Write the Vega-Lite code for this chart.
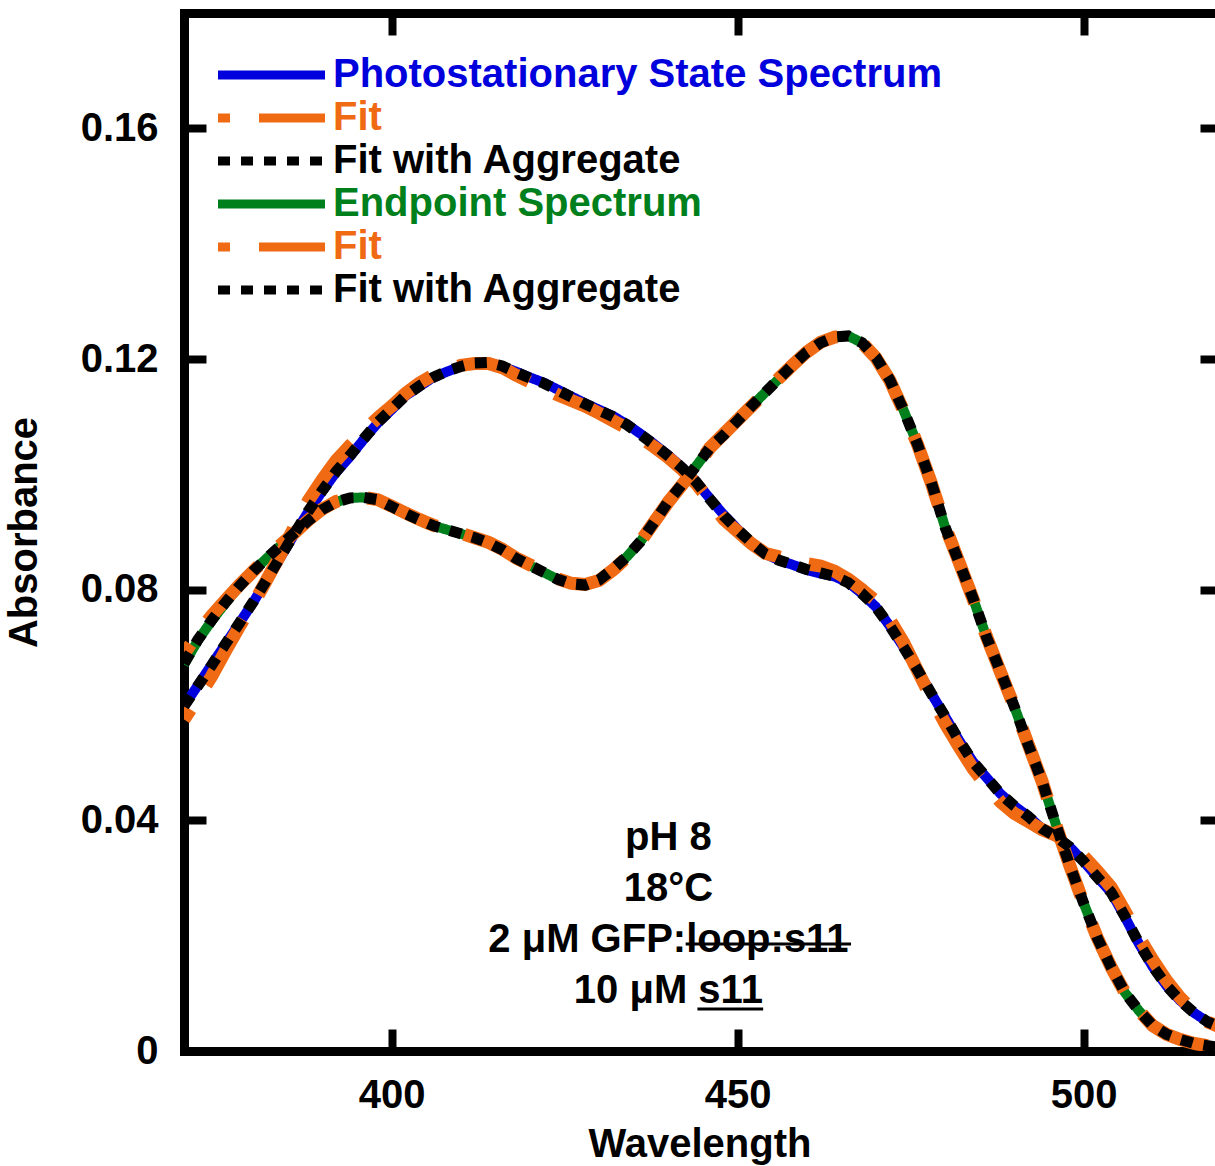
{
  "$schema": "https://vega.github.io/schema/vega-lite/v6.json",
  "width": 1031,
  "height": 1038,
  "autosize": {"type": "none"},
  "padding": {"left": 184, "top": 13, "right": 0, "bottom": 115},
  "background": "white",
  "config": {
    "view": {"stroke": null},
    "axis": {
      "grid": false,
      "domainColor": "black",
      "domainWidth": 9,
      "domainCap": "square",
      "tickColor": "black",
      "tickWidth": 8,
      "tickSize": -22,
      "labelFont": "Liberation Sans",
      "labelFontWeight": "bold",
      "labelFontSize": 40,
      "labelColor": "black",
      "titleFont": "Liberation Sans",
      "titleFontWeight": "bold",
      "titleFontSize": 40,
      "titleColor": "black"
    }
  },
  "layer": [
    {
      "data": {
        "values": [
          {"wl":370,"pss":0.0598,"pssFit":0.0575,"pssAgg":0.0598,"end":0.0670,"endFit":0.0688,"endAgg":0.0672},
          {"wl":372,"pss":0.0634,"pssFit":0.0612,"pssAgg":0.0633,"end":0.0712,"endFit":0.0724,"endAgg":0.0713},
          {"wl":374,"pss":0.0670,"pssFit":0.0650,"pssAgg":0.0669,"end":0.0746,"endFit":0.0755,"endAgg":0.0747},
          {"wl":376,"pss":0.0706,"pssFit":0.0694,"pssAgg":0.0706,"end":0.0777,"endFit":0.0782,"endAgg":0.0778},
          {"wl":378,"pss":0.0742,"pssFit":0.0736,"pssAgg":0.0742,"end":0.0806,"endFit":0.0808,"endAgg":0.0806},
          {"wl":380,"pss":0.0778,"pssFit":0.0775,"pssAgg":0.0779,"end":0.0832,"endFit":0.0832,"endAgg":0.0832},
          {"wl":382,"pss":0.0818,"pssFit":0.0818,"pssAgg":0.0818,"end":0.0855,"endFit":0.0856,"endAgg":0.0855},
          {"wl":384,"pss":0.0857,"pssFit":0.0862,"pssAgg":0.0858,"end":0.0877,"endFit":0.0878,"endAgg":0.0877},
          {"wl":386,"pss":0.0897,"pssFit":0.0910,"pssAgg":0.0898,"end":0.0899,"endFit":0.0899,"endAgg":0.0899},
          {"wl":388,"pss":0.0936,"pssFit":0.0955,"pssAgg":0.0937,"end":0.0920,"endFit":0.0921,"endAgg":0.0920},
          {"wl":390,"pss":0.0971,"pssFit":0.0991,"pssAgg":0.0972,"end":0.0939,"endFit":0.0940,"endAgg":0.0939},
          {"wl":392,"pss":0.1004,"pssFit":0.1024,"pssAgg":0.1005,"end":0.0952,"endFit":0.0953,"endAgg":0.0952},
          {"wl":394,"pss":0.1031,"pssFit":0.1050,"pssAgg":0.1033,"end":0.0959,"endFit":0.0959,"endAgg":0.0959},
          {"wl":396,"pss":0.1061,"pssFit":0.1075,"pssAgg":0.1062,"end":0.0960,"endFit":0.0960,"endAgg":0.0960},
          {"wl":398,"pss":0.1089,"pssFit":0.1098,"pssAgg":0.1090,"end":0.0956,"endFit":0.0956,"endAgg":0.0956},
          {"wl":400,"pss":0.1112,"pssFit":0.1118,"pssAgg":0.1113,"end":0.0944,"endFit":0.0945,"endAgg":0.0944},
          {"wl":402,"pss":0.1136,"pssFit":0.1140,"pssAgg":0.1136,"end":0.0932,"endFit":0.0933,"endAgg":0.0932},
          {"wl":404,"pss":0.1152,"pssFit":0.1158,"pssAgg":0.1153,"end":0.0921,"endFit":0.0922,"endAgg":0.0921},
          {"wl":406,"pss":0.1168,"pssFit":0.1172,"pssAgg":0.1168,"end":0.0911,"endFit":0.0912,"endAgg":0.0911},
          {"wl":408,"pss":0.1178,"pssFit":0.1182,"pssAgg":0.1179,"end":0.0904,"endFit":0.0904,"endAgg":0.0904},
          {"wl":410,"pss":0.1187,"pssFit":0.1189,"pssAgg":0.1187,"end":0.0897,"endFit":0.0898,"endAgg":0.0897},
          {"wl":412,"pss":0.1193,"pssFit":0.1192,"pssAgg":0.1193,"end":0.0890,"endFit":0.0890,"endAgg":0.0890},
          {"wl":414,"pss":0.1194,"pssFit":0.1192,"pssAgg":0.1194,"end":0.0881,"endFit":0.0882,"endAgg":0.0881},
          {"wl":416,"pss":0.1187,"pssFit":0.1185,"pssAgg":0.1188,"end":0.0869,"endFit":0.0870,"endAgg":0.0869},
          {"wl":418,"pss":0.1178,"pssFit":0.1172,"pssAgg":0.1177,"end":0.0854,"endFit":0.0855,"endAgg":0.0854},
          {"wl":420,"pss":0.1168,"pssFit":0.1160,"pssAgg":0.1167,"end":0.0842,"endFit":0.0843,"endAgg":0.0842},
          {"wl":422,"pss":0.1159,"pssFit":0.1150,"pssAgg":0.1158,"end":0.0830,"endFit":0.0831,"endAgg":0.0830},
          {"wl":424,"pss":0.1147,"pssFit":0.1138,"pssAgg":0.1146,"end":0.0818,"endFit":0.0819,"endAgg":0.0818},
          {"wl":426,"pss":0.1135,"pssFit":0.1128,"pssAgg":0.1134,"end":0.0810,"endFit":0.0811,"endAgg":0.0810},
          {"wl":428,"pss":0.1123,"pssFit":0.1118,"pssAgg":0.1122,"end":0.0808,"endFit":0.0809,"endAgg":0.0808},
          {"wl":430,"pss":0.1112,"pssFit":0.1106,"pssAgg":0.1111,"end":0.0817,"endFit":0.0816,"endAgg":0.0817},
          {"wl":432,"pss":0.1101,"pssFit":0.1093,"pssAgg":0.1100,"end":0.0836,"endFit":0.0834,"endAgg":0.0836},
          {"wl":434,"pss":0.1087,"pssFit":0.1080,"pssAgg":0.1086,"end":0.0857,"endFit":0.0856,"endAgg":0.0857},
          {"wl":436,"pss":0.1070,"pssFit":0.1064,"pssAgg":0.1069,"end":0.0884,"endFit":0.0884,"endAgg":0.0884},
          {"wl":438,"pss":0.1052,"pssFit":0.1047,"pssAgg":0.1051,"end":0.0918,"endFit":0.0918,"endAgg":0.0918},
          {"wl":440,"pss":0.1033,"pssFit":0.1029,"pssAgg":0.1032,"end":0.0953,"endFit":0.0952,"endAgg":0.0953},
          {"wl":442,"pss":0.1012,"pssFit":0.1008,"pssAgg":0.1011,"end":0.0983,"endFit":0.0982,"endAgg":0.0983},
          {"wl":444,"pss":0.0988,"pssFit":0.0984,"pssAgg":0.0987,"end":0.1014,"endFit":0.1013,"endAgg":0.1014},
          {"wl":446,"pss":0.0958,"pssFit":0.0954,"pssAgg":0.0957,"end":0.1046,"endFit":0.1046,"endAgg":0.1046},
          {"wl":448,"pss":0.0930,"pssFit":0.0922,"pssAgg":0.0928,"end":0.1068,"endFit":0.1070,"endAgg":0.1068},
          {"wl":450,"pss":0.0905,"pssFit":0.0901,"pssAgg":0.0904,"end":0.1093,"endFit":0.1094,"endAgg":0.1093},
          {"wl":452,"pss":0.0882,"pssFit":0.0880,"pssAgg":0.0882,"end":0.1118,"endFit":0.1118,"endAgg":0.1118},
          {"wl":454,"pss":0.0862,"pssFit":0.0863,"pssAgg":0.0862,"end":0.1142,"endFit":0.1142,"endAgg":0.1142},
          {"wl":456,"pss":0.0851,"pssFit":0.0857,"pssAgg":0.0851,"end":0.1166,"endFit":0.1167,"endAgg":0.1166},
          {"wl":458,"pss":0.0843,"pssFit":0.0852,"pssAgg":0.0843,"end":0.1190,"endFit":0.1190,"endAgg":0.1190},
          {"wl":460,"pss":0.0834,"pssFit":0.0845,"pssAgg":0.0835,"end":0.1212,"endFit":0.1212,"endAgg":0.1212},
          {"wl":462,"pss":0.0828,"pssFit":0.0841,"pssAgg":0.0829,"end":0.1228,"endFit":0.1229,"endAgg":0.1228},
          {"wl":464,"pss":0.0823,"pssFit":0.0832,"pssAgg":0.0823,"end":0.1238,"endFit":0.1238,"endAgg":0.1238},
          {"wl":466,"pss":0.0812,"pssFit":0.0818,"pssAgg":0.0812,"end":0.1240,"endFit":0.1240,"endAgg":0.1240},
          {"wl":468,"pss":0.0793,"pssFit":0.0800,"pssAgg":0.0793,"end":0.1228,"endFit":0.1228,"endAgg":0.1228},
          {"wl":470,"pss":0.0770,"pssFit":0.0780,"pssAgg":0.0770,"end":0.1203,"endFit":0.1202,"endAgg":0.1203},
          {"wl":472,"pss":0.0737,"pssFit":0.0748,"pssAgg":0.0737,"end":0.1164,"endFit":0.1163,"endAgg":0.1164},
          {"wl":474,"pss":0.0700,"pssFit":0.0708,"pssAgg":0.0700,"end":0.1111,"endFit":0.1110,"endAgg":0.1111},
          {"wl":476,"pss":0.0661,"pssFit":0.0660,"pssAgg":0.0661,"end":0.1052,"endFit":0.1052,"endAgg":0.1052},
          {"wl":478,"pss":0.0620,"pssFit":0.0612,"pssAgg":0.0620,"end":0.0986,"endFit":0.0985,"endAgg":0.0986},
          {"wl":480,"pss":0.0580,"pssFit":0.0568,"pssAgg":0.0580,"end":0.0908,"endFit":0.0910,"endAgg":0.0908},
          {"wl":482,"pss":0.0539,"pssFit":0.0528,"pssAgg":0.0539,"end":0.0848,"endFit":0.0848,"endAgg":0.0848},
          {"wl":484,"pss":0.0502,"pssFit":0.0490,"pssAgg":0.0502,"end":0.0786,"endFit":0.0785,"endAgg":0.0786},
          {"wl":486,"pss":0.0474,"pssFit":0.0460,"pssAgg":0.0474,"end":0.0717,"endFit":0.0718,"endAgg":0.0717},
          {"wl":488,"pss":0.0446,"pssFit":0.0432,"pssAgg":0.0446,"end":0.0658,"endFit":0.0657,"endAgg":0.0658},
          {"wl":490,"pss":0.0425,"pssFit":0.0412,"pssAgg":0.0425,"end":0.0597,"endFit":0.0597,"endAgg":0.0597},
          {"wl":492,"pss":0.0407,"pssFit":0.0398,"pssAgg":0.0407,"end":0.0531,"endFit":0.0532,"endAgg":0.0531},
          {"wl":494,"pss":0.0386,"pssFit":0.0384,"pssAgg":0.0386,"end":0.0468,"endFit":0.0468,"endAgg":0.0468},
          {"wl":496,"pss":0.0372,"pssFit":0.0374,"pssAgg":0.0372,"end":0.0393,"endFit":0.0392,"endAgg":0.0393},
          {"wl":498,"pss":0.0354,"pssFit":0.0360,"pssAgg":0.0354,"end":0.0322,"endFit":0.0322,"endAgg":0.0322},
          {"wl":500,"pss":0.0329,"pssFit":0.0338,"pssAgg":0.0329,"end":0.0257,"endFit":0.0256,"endAgg":0.0257},
          {"wl":502,"pss":0.0301,"pssFit":0.0312,"pssAgg":0.0301,"end":0.0196,"endFit":0.0196,"endAgg":0.0196},
          {"wl":504,"pss":0.0275,"pssFit":0.0284,"pssAgg":0.0275,"end":0.0145,"endFit":0.0145,"endAgg":0.0145},
          {"wl":506,"pss":0.0232,"pssFit":0.0242,"pssAgg":0.0233,"end":0.0101,"endFit":0.0101,"endAgg":0.0101},
          {"wl":508,"pss":0.0186,"pssFit":0.0198,"pssAgg":0.0187,"end":0.0070,"endFit":0.0070,"endAgg":0.0070},
          {"wl":510,"pss":0.0146,"pssFit":0.0158,"pssAgg":0.0147,"end":0.0044,"endFit":0.0044,"endAgg":0.0044},
          {"wl":512,"pss":0.0113,"pssFit":0.0122,"pssAgg":0.0113,"end":0.0029,"endFit":0.0029,"endAgg":0.0029},
          {"wl":514,"pss":0.0087,"pssFit":0.0092,"pssAgg":0.0087,"end":0.0020,"endFit":0.0020,"endAgg":0.0020},
          {"wl":516,"pss":0.0066,"pssFit":0.0068,"pssAgg":0.0066,"end":0.0013,"endFit":0.0013,"endAgg":0.0013},
          {"wl":518,"pss":0.0050,"pssFit":0.0050,"pssAgg":0.0050,"end":0.0009,"endFit":0.0009,"endAgg":0.0009},
          {"wl":520,"pss":0.0040,"pssFit":0.0040,"pssAgg":0.0040,"end":0.0006,"endFit":0.0006,"endAgg":0.0006}
        ]
      },
      "transform": [
        {"fold": ["pss", "pssFit", "pssAgg", "end", "endFit", "endAgg"], "as": ["series", "value"]}
      ],
      "encoding": {
        "x": {
          "field": "wl", "type": "quantitative",
          "scale": {"domain": [370, 519], "nice": false, "zero": false},
          "axis": {"orient": "bottom", "title": "Wavelength", "values": [400, 450, 500], "labelPadding": 46, "titlePadding": 9}
        },
        "y": {
          "field": "value", "type": "quantitative",
          "scale": {"domain": [0, 0.18], "nice": false},
          "axis": {"orient": "left", "title": "Absorbance", "values": [0, 0.04, 0.08, 0.12, 0.16], "format": ".2~f", "labelPadding": 48, "titlePadding": 36}
        },
        "color": {
          "field": "series", "type": "nominal",
          "scale": {
            "domain": ["pss", "pssFit", "pssAgg", "end", "endFit", "endAgg"],
            "range": ["#0000dd", "#f06a14", "#000000", "#00801c", "#f06a14", "#000000"]
          },
          "legend": {
            "orient": "none", "legendX": 29.5, "legendY": 42, "title": null,
            "symbolType": "stroke", "symbolSize": 11449, "symbolStrokeWidth": 9,
            "labelFont": "Liberation Sans", "labelFontWeight": "bold", "labelFontSize": 40,
            "labelOffset": 3.5, "labelLimit": 1000, "clipHeight": 40, "rowPadding": 3, "padding": 0,
            "labelExpr": "datum.value == 'pss' ? 'Photostationary State Spectrum' : datum.value == 'end' ? 'Endpoint Spectrum' : (datum.value == 'pssFit' || datum.value == 'endFit') ? 'Fit' : 'Fit with Aggregate'",
            "encode": {"labels": {"update": {"fill": {"scale": "color", "field": "value"}}}}
          }
        },
        "strokeDash": {
          "field": "series", "type": "nominal",
          "scale": {
            "domain": ["pss", "pssFit", "pssAgg", "end", "endFit", "endAgg"],
            "range": [[1, 0], [12, 29, 63, 0], [12, 11], [1, 0], [12, 29, 63, 0], [12, 11]]
          },
          "legend": {
            "orient": "none", "legendX": 29.5, "legendY": 42, "title": null,
            "symbolType": "stroke", "symbolSize": 11449, "symbolStrokeWidth": 9,
            "labelFont": "Liberation Sans", "labelFontWeight": "bold", "labelFontSize": 40,
            "labelOffset": 3.5, "labelLimit": 1000, "clipHeight": 40, "rowPadding": 3, "padding": 0,
            "labelExpr": "datum.value == 'pss' ? 'Photostationary State Spectrum' : datum.value == 'end' ? 'Endpoint Spectrum' : (datum.value == 'pssFit' || datum.value == 'endFit') ? 'Fit' : 'Fit with Aggregate'",
            "encode": {"labels": {"update": {"fill": {"scale": "color", "field": "value"}}}}
          }
        }
      },
      "layer": [
        {
          "transform": [{"filter": "datum.series == 'pss' || datum.series == 'end'"}],
          "mark": {"type": "line", "strokeWidth": 10, "clip": true, "strokeJoin": "round"}
        },
        {
          "transform": [{"filter": "datum.series == 'pssFit' || datum.series == 'endFit'"}],
          "mark": {"type": "line", "strokeWidth": 13, "clip": true, "strokeCap": "butt"}
        },
        {
          "transform": [{"filter": "datum.series == 'pssAgg' || datum.series == 'endAgg'"}],
          "mark": {"type": "line", "strokeWidth": 11, "clip": true, "strokeCap": "butt"}
        }
      ]
    },
    {
      "data": {"values": [{}]},
      "mark": {
        "type": "text",
        "text": ["pH 8", "18°C", "2 μM GFP:loop:s11", "10 μM s11"],
        "font": "Liberation Sans", "fontWeight": "bold", "fontSize": 40, "lineHeight": 51,
        "align": "center", "baseline": "alphabetic", "color": "black"
      },
      "encoding": {
        "x": {
          "datum": 440, "type": "quantitative",
          "scale": {"domain": [370, 519], "nice": false, "zero": false},
          "axis": {"orient": "top", "labels": false, "title": null, "values": [400, 450, 500]}
        },
        "y": {
          "datum": 0.03487, "type": "quantitative",
          "scale": {"domain": [0, 0.18], "nice": false},
          "axis": {"orient": "right", "labels": false, "title": null, "domain": false, "tickSize": -15, "values": [0, 0.04, 0.08, 0.12, 0.16]}
        }
      }
    },
    {
      "data": {"values": [{}]},
      "mark": {"type": "rule", "strokeWidth": 3, "color": "black"},
      "encoding": {
        "x": {"datum": 442.5, "type": "quantitative", "scale": {"domain": [370, 519], "nice": false, "zero": false}, "axis": null},
        "x2": {"datum": 466.4},
        "y": {"datum": 0.01856, "type": "quantitative", "scale": {"domain": [0, 0.18], "nice": false}, "axis": null}
      }
    },
    {
      "data": {"values": [{}]},
      "mark": {"type": "rule", "strokeWidth": 3, "color": "black"},
      "encoding": {
        "x": {"datum": 444.2, "type": "quantitative", "scale": {"domain": [370, 519], "nice": false, "zero": false}, "axis": null},
        "x2": {"datum": 453.7},
        "y": {"datum": 0.00729, "type": "quantitative", "scale": {"domain": [0, 0.18], "nice": false}, "axis": null}
      }
    }
  ],
  "resolve": {"axis": {"x": "independent", "y": "independent"}}
}
